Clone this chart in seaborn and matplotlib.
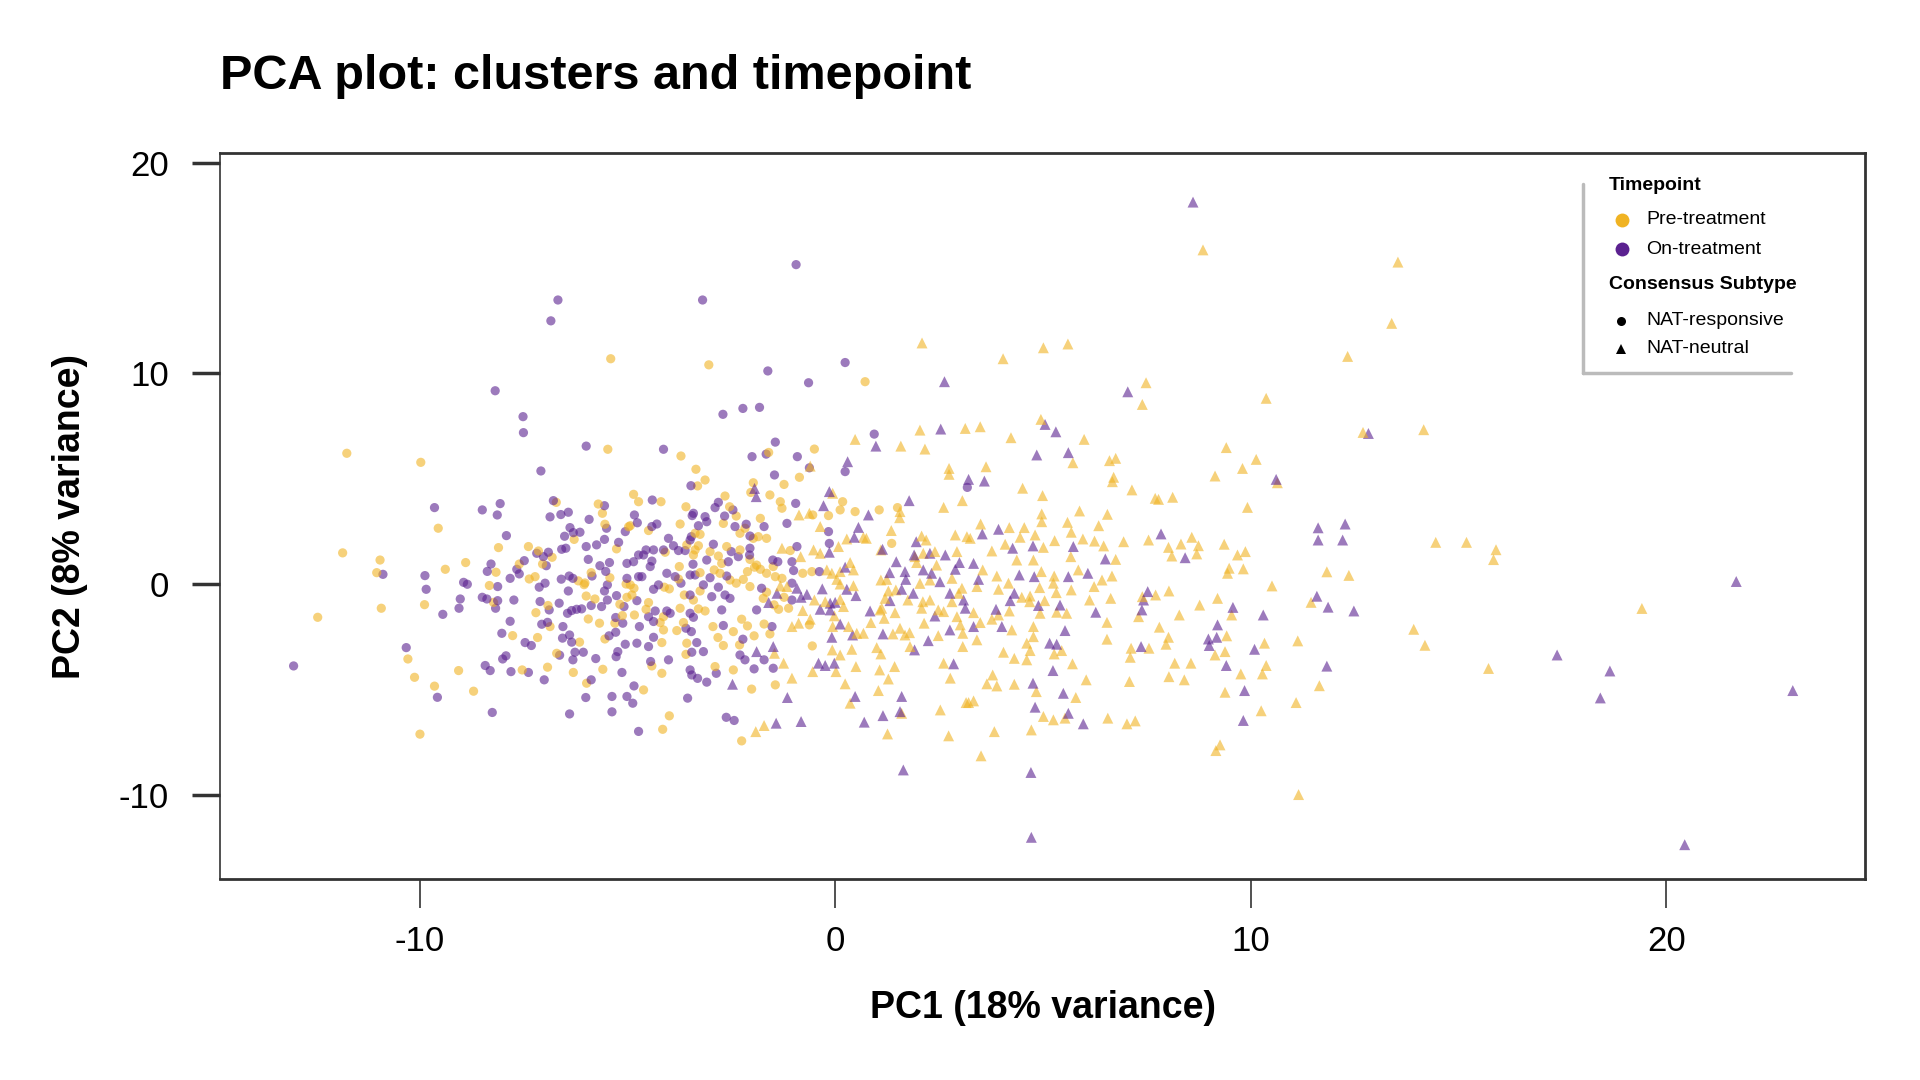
import matplotlib
matplotlib.use("Agg")
import matplotlib.pyplot as plt
from matplotlib.lines import Line2D
import seaborn as sns
import pandas as pd

# ---------------- data (PC1, PC2) ----------------
pre_resp = [(-11.75,6.21),(-9.97,5.78),(-5.47,6.40),(-6.71,3.88),(-5.70,3.80),(-5.60,3.36),(-5.54,2.84),(-4.97,2.72),(-9.55,2.65),(-6.28,2.12),(-11.85,1.48),(-10.95,1.14),(-11.03,0.54),(-10.92,-1.15),(-12.45,-1.58),(-9.88,-0.98),(-9.38,0.70),(-8.89,1.02),(-8.10,1.73),(-8.16,0.56),(-8.32,-0.07),(-8.22,-0.87),(-7.60,0.95),(-7.38,1.78),(-7.14,1.57),(-6.81,1.27),(-7.04,0.95),(-7.36,0.24),(-7.22,0.35),(-6.91,-1.02),(-6.18,0.15),(-6.04,-0.03),(-6.02,0.05),(-5.87,0.54),(-5.99,-0.57),(-5.78,-0.71),(-5.26,1.67),(-5.42,0.30),(-5.03,0.00),(-5.18,-0.96),(-5.01,-0.63),(-5.94,-1.66),(-5.67,-1.86),(-5.12,-1.50),(-5.30,-1.86),(-6.15,-2.76),(-6.70,-3.29),(-5.54,-2.61),(-5.59,-4.05),(-6.30,-4.20),(-5.98,-4.71),(-7.76,-2.45),(-7.16,-2.54),(-7.20,-1.36),(-6.86,-2.02),(-10.28,-3.56),(-10.12,-4.43),(-9.64,-4.85),(-9.06,-4.11),(-8.70,-5.09),(-7.53,-4.08),(-6.92,-3.95),(-9.99,-7.13),
    (0.72,9.61),(-3.71,6.08),(-3.35,5.45),(-3.13,4.94),(-3.31,4.66),(-1.60,6.25),(-0.50,6.41),(-1.23,4.73),(-0.86,5.07),(-1.97,4.81),(-2.03,4.35),(-4.85,4.26),(-4.73,3.91),(-4.19,3.91),(-4.93,2.77),(-4.49,2.54),(-3.59,3.67),(-3.73,2.85),(-3.37,2.41),(-3.25,2.36),(-2.65,4.18),(-2.54,3.67),(-2.38,3.23),(-2.69,2.88),(-2.29,2.41),(-2.17,2.65),(-1.97,2.17),(-1.80,3.12),(-1.85,2.25),(-1.65,2.17),(-1.57,4.23),(-1.32,3.91),(-1.28,3.60),(-0.54,3.28),(-0.16,3.25),(0.18,3.91),(0.12,3.52),(0.48,3.44),(1.06,3.52),(1.50,3.63),(1.36,1.93),(-4.09,1.51),(-3.77,0.24),(-4.93,-0.04),(-4.84,-0.20),(-4.11,-0.15),(-3.99,-0.23),(-4.89,-0.52),(-4.49,-0.88),(-4.55,-1.20),(-4.83,-1.47),(-4.13,-1.55),(-4.21,-1.83),(-3.57,1.86),(-3.37,1.62),(-3.29,1.82),(-3.41,1.38),(-3.75,0.83),(-3.25,0.54),(-3.01,1.54),(-2.81,1.33),(-2.61,1.78),(-2.73,0.98),(-2.91,0.67),(-2.77,0.51),(-3.25,-0.33),(-3.63,-0.52),(-3.41,-0.76),(-2.53,0.19),(-2.38,0.04),(-2.21,0.22),(-2.11,0.59),(-2.05,-0.12),(-1.89,0.90),(-1.80,0.70),(-1.65,0.51),(-1.49,0.83),(-1.44,0.35),(-1.28,0.27),(-2.29,1.62),(-2.05,1.17),(-1.94,0.80),(-1.65,-0.39),(-1.73,-0.68),(-1.23,-0.63),(-1.47,-0.99),(-1.12,-1.15),(-1.36,-1.20),(-1.08,1.59),(-0.78,0.51),(-0.56,0.59),(-4.17,-2.78),(-4.13,-2.18),(-3.81,-2.21),(-3.65,-1.83),(-3.73,-1.15),(-3.29,-1.18),(-3.13,-1.28),(-3.57,-2.81),(-3.59,-3.34),(-4.41,-3.89),(-4.17,-4.24),(-2.89,-3.92),(-2.94,-2.02),(-2.45,-2.26),(-2.82,-2.54),(-2.69,-2.92),(-2.30,-2.89),(-2.45,-4.08),(-2.25,-1.67),(-2.11,-1.99),(-1.95,-2.46),(-1.71,-1.90),(-1.57,-2.37),(-1.44,-4.79),(-2.01,-4.99),(-0.55,-2.94),(-0.62,-1.94),(-2.25,-7.45),(-3.99,-6.26),(-4.15,-6.90),(-4.61,-5.03),
    (-5.40,10.70),(-3.04,10.41)]

on_resp = [(-8.18,9.18),(-7.51,7.95),(-7.50,7.19),(-5.99,6.55),(-7.08,5.37),(-9.64,3.63),(-8.49,3.52),(-8.06,3.82),(-8.13,3.28),(-6.78,3.96),(-6.86,3.19),(-6.60,3.30),(-6.42,3.41),(-5.92,3.07),(-5.55,3.72),(-5.50,2.65),(-5.05,2.49),(-7.91,2.30),(-6.38,2.68),(-6.30,2.44),(-6.14,2.46),(-6.51,2.27),(-10.88,0.46),(-13.03,-3.89),(-9.87,0.40),(-9.84,-0.25),(-9.44,-1.44),(-9.02,-0.71),(-9.05,-1.15),(-8.94,0.08),(-8.85,-0.01),(-8.28,0.95),(-8.37,0.60),(-8.12,-0.12),(-8.49,-0.63),(-8.38,-0.71),(-8.12,-0.79),(-8.17,-1.15),(-7.73,-0.76),(-7.82,0.27),(-7.66,0.70),(-7.60,0.48),(-7.48,1.11),(-7.18,1.46),(-7.02,1.30),(-6.90,1.51),(-6.95,0.87),(-6.98,0.04),(-7.12,-0.15),(-7.10,-0.83),(-6.88,-1.23),(-6.64,-0.91),(-6.58,1.65),(-6.48,1.70),(-6.59,0.23),(-6.40,0.38),(-6.31,0.27),(-6.42,-0.33),(-5.85,0.38),(-5.87,-1.02),(-5.99,1.78),(-5.94,1.17),(-5.74,1.86),(-5.55,2.12),(-5.21,1.98),(-5.66,0.87),(-5.43,1.02),(-5.01,0.98),(-5.52,0.60),(-5.48,-0.04),(-5.55,-0.33),(-5.01,0.27),(-5.26,-0.55),(-5.48,-0.76),(-5.62,-1.07),(-5.08,-1.07),(-6.44,-1.39),(-6.34,-1.26),(-6.22,-1.20),(-6.10,-1.18),(-5.28,-1.59),(-5.11,-1.86),(-6.55,-2.02),(-6.39,-2.42),(-6.56,-2.57),(-6.34,-2.76),(-6.26,-3.24),(-6.06,-3.24),(-6.31,-3.60),(-6.63,-3.38),(-5.76,-3.54),(-5.28,-2.29),(-5.44,-2.46),(-5.05,-2.86),(-5.23,-3.21),(-5.27,-3.45),(-5.13,-4.20),(-5.87,-4.55),(-6.00,-5.39),(-5.37,-5.34),(-5.01,-5.34),(-5.37,-6.07),(-6.39,-6.17),(-7.82,-1.77),(-8.02,-2.34),(-7.46,-2.78),(-7.31,-2.92),(-7.06,-1.91),(-6.92,-1.82),(-10.32,-3.02),(-9.57,-5.38),(-8.42,-3.87),(-8.30,-4.11),(-8.00,-3.56),(-7.92,-3.41),(-7.80,-4.16),(-7.38,-4.20),(-7.00,-4.55),(-8.25,-6.10),
    (-0.64,9.56),(-2.70,8.06),(-2.22,8.34),(-1.82,8.39),(-4.13,6.40),(-3.47,4.67),(-1.44,6.74),(-1.66,6.17),(-2.00,6.05),(-0.91,6.05),(-0.62,5.52),(-1.46,5.18),(0.24,5.34),(0.94,7.12),(3.18,4.59),(-4.40,3.99),(-4.83,3.28),(-4.76,2.91),(-4.41,2.73),(-4.29,2.85),(-3.44,3.25),(-3.41,3.36),(-3.29,2.77),(-3.13,3.20),(-3.09,2.96),(-3.46,2.25),(-2.89,3.63),(-2.81,3.88),(-2.46,3.52),(-2.66,3.23),(-2.41,2.73),(-2.14,2.84),(-2.05,2.28),(-1.71,2.73),(-0.95,3.83),(-1.16,2.88),(-0.16,2.49),(-4.01,2.17),(-3.89,1.82),(-3.77,1.59),(-4.13,1.62),(-4.37,1.62),(-4.55,1.62),(-4.73,1.38),(-4.61,1.38),(-4.85,1.06),(-4.41,1.09),(-4.45,0.83),(-4.05,0.51),(-3.85,0.35),(-3.71,0.04),(-4.73,0.35),(-4.65,0.35),(-4.37,-0.25),(-4.25,-0.04),(-4.77,-0.79),(-4.33,-1.28),(-4.05,-1.28),(-4.49,-1.55),(-4.37,-1.78),(-3.49,2.09),(-3.61,1.59),(-3.42,0.94),(-3.37,0.43),(-3.49,0.43),(-3.09,1.14),(-2.93,1.89),(-2.50,1.54),(-2.33,1.30),(-2.57,1.06),(-3.01,0.30),(-2.81,-0.15),(-3.17,-0.04),(-3.49,-0.52),(-2.61,0.38),(-2.65,-0.52),(-2.97,-0.60),(-2.53,-0.68),(-1.38,1.06),(-1.50,1.14),(-2.06,1.38),(-2.05,1.70),(-1.77,-0.20),(-1.04,1.06),(-1.00,0.64),(-0.92,1.78),(-1.04,0.04),(-1.04,-0.76),(-0.38,0.59),(-0.14,1.93),(-4.71,-2.02),(-4.77,-2.81),(-4.49,-2.97),(-4.37,-2.53),(-3.59,-2.10),(-3.46,-2.26),(-3.97,-1.39),(-3.49,-1.39),(-3.41,-1.58),(-3.33,-2.78),(-3.17,-3.21),(-3.45,-3.24),(-4.44,-3.68),(-4.01,-3.60),(-3.49,-4.08),(-3.45,-4.32),(-3.31,-4.48),(-3.09,-4.66),(-2.86,-4.24),(-2.69,-1.97),(-2.73,-1.23),(-2.22,-2.62),(-2.29,-3.37),(-2.17,-3.60),(-1.89,-1.23),(-1.52,-2.02),(-1.95,-4.03),(-1.71,-3.60),(-1.49,-4.00),(-2.62,-6.33),(-2.43,-6.48),(-4.73,-7.00),(-4.84,-4.84),(-4.87,-5.66),(-3.55,-5.42),
    (-0.94,15.17),(-3.19,13.49),(-6.67,13.49),(-6.84,12.50),(-1.62,10.12),(0.24,10.52)]

pre_neut = [(-0.60,5.60),(0.48,6.87),(1.58,6.55),(2.04,7.31),(2.16,6.41),(3.13,7.39),(2.74,5.49),(2.74,5.21),(-0.87,3.28),(-0.62,3.36),(-0.06,4.31),(-0.36,2.73),(0.28,2.14),(0.68,2.22),(0.75,2.17),(1.56,3.44),(1.55,3.15),(2.61,3.64),(3.06,3.96),(1.35,2.54),(2.08,2.28),(2.19,2.09),(2.89,2.33),(3.17,2.25),(-1.32,-0.09),(-1.16,-0.12),(-1.28,1.70),(-0.83,1.30),(-0.78,-1.26),(-0.52,1.62),(-0.36,1.46),(0.08,1.78),(-0.20,0.67),(-0.08,0.51),(0.12,0.59),(0.36,1.02),(0.44,0.67),(0.04,0.22),(0.12,0.00),(0.44,-0.08),(-0.50,-0.76),(-0.24,-0.84),(0.12,-0.73),(0.20,-1.07),(-0.02,-1.51),(-1.46,-3.29),(-1.24,-3.76),(-1.04,-4.47),(-1.04,-2.02),(-0.88,-1.86),(-0.60,-1.67),(-0.06,-2.02),(0.32,-2.02),(0.52,-2.34),(-0.07,-3.13),(0.12,-3.37),(0.40,-3.10),(0.02,-4.16),(-0.54,-4.16),(0.50,-3.92),(0.24,-4.74),(0.36,-5.66),(1.04,-5.06),(0.86,-1.83),(0.68,-2.34),(1.08,-1.23),(1.18,-1.63),(1.39,-2.37),(1.00,-3.02),(1.10,-3.32),(1.07,-4.08),(1.43,-3.92),(1.28,-4.51),(1.56,-2.10),(1.68,-2.42),(1.79,-2.31),(1.80,-2.97),(1.60,-6.14),(1.26,-7.12),(-1.71,-6.72),(-1.91,-7.01),(2.14,-1.86),(2.08,-1.15),(2.28,-0.76),(2.48,-1.23),(2.61,-1.31),(2.93,-1.55),(2.48,-2.45),(3.07,-2.34),(3.01,-1.94),(2.61,-3.76),(2.77,-4.47),(3.07,-2.97),(2.53,-5.98),(2.73,-7.21),(3.15,-5.63),(1.10,1.62),(1.24,0.22),(1.10,0.19),(1.46,-0.28),(1.28,-0.33),(1.20,-0.68),(1.12,-1.15),(1.44,-1.36),(1.75,-0.76),(1.92,1.30),(2.12,1.46),(2.40,1.54),(2.93,1.54),(1.96,1.02),(2.44,0.90),(2.28,0.19),(2.81,0.27),(3.05,-0.20),(2.97,-0.44),(2.04,0.03),(2.81,-0.84),(2.11,-0.84),
    (7.48,9.56),(7.39,8.53),(10.37,8.82),(3.49,7.47),(4.23,6.95),(4.95,7.82),(5.99,6.87),(5.72,5.76),(6.60,5.86),(6.75,5.97),(6.70,5.07),(6.67,4.86),(7.14,4.47),(3.63,5.57),(4.51,4.55),(4.99,4.20),(9.41,6.48),(10.13,5.92),(9.80,5.49),(9.14,5.13),(10.64,4.81),(7.70,4.07),(7.78,4.02),(8.12,4.12),(9.92,3.64),(4.97,3.33),(5.88,3.47),(6.55,3.31),(3.50,2.85),(4.19,2.68),(4.55,2.68),(4.97,2.96),(5.59,2.93),(5.68,2.46),(6.34,2.77),(4.81,2.33),(4.45,2.22),(3.25,2.17),(5.96,2.14),(6.24,2.04),(6.94,2.01),(7.54,2.09),(8.58,2.22),(8.32,1.90),(8.74,1.82),(8.02,1.74),(8.10,1.33),(8.70,1.43),(9.36,1.89),(9.68,1.38),(9.87,1.54),(9.48,0.75),(9.44,0.51),(9.82,0.72),(10.51,-0.09),(3.77,1.57),(4.09,1.89),(5.01,1.74),(5.28,2.06),(5.67,1.30),(6.46,1.81),(6.75,1.17),(4.37,1.14),(4.77,1.14),(3.55,0.67),(4.96,0.59),(3.89,0.38),(4.17,0.04),(3.41,-0.12),(3.93,-0.25),(4.92,-0.17),(5.27,0.38),(5.25,0.04),(5.68,-0.28),(5.85,0.67),(6.42,0.19),(6.66,0.38),(6.23,-0.12),(5.32,-0.41),(4.49,-0.63),(4.69,-0.57),(4.68,-0.84),(5.04,-0.79),(6.12,-0.76),(6.63,-0.68),(7.39,-0.60),(7.71,-0.52),(8.03,-0.33),(7.30,-1.55),(8.77,-1.00),(9.20,-0.68),(9.54,-1.47),(8.28,-1.47),(3.77,-1.67),(3.93,-1.47),(4.19,-1.28),(3.33,-1.36),(4.93,-1.39),(5.33,-1.34),(5.57,-1.39),(3.49,-1.83),(4.25,-2.18),(4.77,-2.02),(6.54,-1.82),(3.41,-2.65),(4.77,-2.50),(4.61,-2.81),(4.05,-3.24),(4.69,-3.16),(4.31,-3.53),(4.61,-3.60),(5.45,-3.16),(5.27,-3.32),(5.71,-3.79),(6.54,-2.62),(7.12,-3.05),(7.10,-3.48),(7.55,-3.05),(7.80,-2.05),(8.02,-2.53),(7.96,-2.86),(8.17,-3.76),(8.56,-3.76),(8.03,-4.40),(8.40,-4.55),(9.42,-2.46),(9.14,-3.37),(9.38,-3.21),(10.33,-2.81),(10.37,-3.87),(10.28,-4.27),(9.76,-4.27),(11.13,-2.70),(9.38,-5.14),(10.25,-6.02),(11.09,-5.63),(9.26,-7.64),(9.16,-7.91),(3.79,-4.32),(3.65,-4.74),(3.89,-4.84),(4.31,-4.76),(4.84,-5.11),(5.79,-5.39),(5.01,-6.29),(5.25,-6.45),(5.53,-6.37),(6.56,-6.37),(7.02,-6.64),(7.22,-6.50),(6.04,-4.55),(7.08,-4.63),(3.21,-5.63),(3.33,-5.55),(3.83,-7.01),(4.72,-6.93),(3.51,-8.16),
    (8.85,15.87),(13.54,15.29),(13.39,12.38),(12.33,10.81),(5.60,11.40),(5.01,11.22),(2.09,11.45),(4.04,10.70),(12.70,7.20),(14.16,7.33),(11.83,0.58),(12.36,0.41),(14.45,1.98),(15.19,1.98),(15.90,1.63),(15.84,1.16),(11.45,-0.87),(13.92,-2.15),(14.19,-2.91),(11.65,-4.83),(15.72,-4.01),(19.41,-1.16),(11.15,-10.00)]

on_neut = [(2.63,9.61),(-1.94,4.54),(-1.90,4.15),(0.30,5.81),(0.98,6.55),(2.54,7.36),(3.21,4.97),(-0.28,3.72),(-0.14,4.39),(0.56,2.69),(0.46,2.22),(0.80,3.28),(1.78,3.96),(1.95,2.01),(-1.60,-0.88),(-1.40,-0.44),(-0.92,-0.20),(-0.82,-0.63),(-0.68,-0.49),(-0.14,1.51),(0.24,0.80),(-0.31,-0.23),(0.28,-0.25),(0.50,-0.55),(-0.12,-0.91),(0.00,-0.87),(-0.12,-1.23),(-0.36,-1.20),(-1.89,-3.21),(-1.49,-2.97),(-2.47,-4.76),(0.12,-1.90),(0.42,-2.42),(-0.08,-2.53),(-0.40,-3.76),(-0.24,-3.87),(-0.02,-3.76),(0.48,-5.34),(-1.15,-5.39),(0.84,-1.28),(1.15,-2.37),(1.91,-3.13),(1.60,-5.34),(1.56,-6.06),(1.15,-6.25),(0.70,-6.56),(1.64,-8.83),(-1.42,-6.61),(-0.82,-6.53),(2.40,-1.52),(3.13,-1.15),(2.76,-2.18),(2.24,-2.69),(2.85,-3.79),(1.14,1.65),(1.47,1.06),(1.31,0.54),(1.68,0.59),(1.70,0.22),(1.60,-0.25),(1.32,-0.79),(1.88,-0.44),(1.90,1.38),(2.28,1.46),(2.65,1.38),(2.12,0.67),(2.89,0.70),(2.99,1.02),(2.52,0.11),(2.32,0.51),(2.76,-0.44),(3.09,-0.76),
    (7.04,9.13),(5.05,7.58),(5.31,7.23),(4.85,6.13),(5.61,6.24),(3.59,4.89),(10.61,4.97),(3.93,2.60),(3.54,2.38),(7.84,2.38),(8.42,1.25),(4.27,1.70),(4.76,1.81),(5.73,1.78),(6.50,1.19),(3.33,0.98),(4.43,0.43),(4.79,0.35),(3.45,0.22),(5.61,0.35),(6.08,0.51),(4.31,-0.44),(4.21,-0.79),(4.89,-1.02),(5.41,-1.00),(7.52,-0.36),(7.42,-0.76),(7.38,-1.23),(9.57,-1.11),(10.30,-1.47),(3.87,-1.20),(6.27,-1.34),(3.33,-2.02),(4.01,-2.02),(5.53,-2.21),(5.16,-2.81),(5.33,-2.86),(5.24,-4.11),(7.36,-2.97),(9.20,-1.94),(8.98,-2.61),(9.18,-2.53),(9.00,-2.92),(9.41,-3.87),(10.09,-3.10),(9.85,-5.06),(9.82,-6.48),(4.76,-4.71),(5.49,-5.19),(4.81,-5.85),(5.61,-6.14),(5.97,-6.64),(4.71,-8.95),
    (8.61,18.14),(12.83,7.15),(11.62,2.67),(11.62,2.09),(12.27,2.85),(12.21,2.09),(11.59,-0.58),(11.86,-1.10),(12.48,-1.28),(11.83,-3.90),(17.37,-3.37),(18.64,-4.13),(18.41,-5.41),(21.68,0.12),(23.04,-5.06),(20.44,-12.38),(4.72,-12.03)]

timepoints = ["Pre-treatment", "On-treatment"]
subtypes = ["NAT-responsive", "NAT-neutral"]
colors = {"Pre-treatment": "#F0B323", "On-treatment": "#5B2190"}
x_ticks = [-10, 0, 10, 20]
y_ticks = [-10, 0, 10, 20]

rows = []
for pts, tp, st in [(pre_resp, timepoints[0], subtypes[0]), (on_resp, timepoints[1], subtypes[0]),
                    (pre_neut, timepoints[0], subtypes[1]), (on_neut, timepoints[1], subtypes[1])]:
    for x, y in pts:
        rows.append({"PC1": x, "PC2": y, "Timepoint": tp, "Subtype": st})
df = pd.DataFrame(rows)
# deterministic interleaving of the groups in draw order
df = df.sort_values("PC2", kind="stable").reset_index(drop=True)

sns.set_theme(style="white")
plt.rcParams["font.family"] = ["Liberation Sans", "DejaVu Sans"]
plt.rcParams["axes.unicode_minus"] = False
for k in ["text.color", "axes.labelcolor", "xtick.color", "ytick.color"]:
    plt.rcParams[k] = "black"

fig = plt.figure(figsize=(19.2, 10.8), dpi=100)
ax = fig.add_axes([0.1146, 0.1861, 0.9714 - 0.1146, 0.8583 - 0.1861])

sns.scatterplot(data=df[df.Subtype == "NAT-responsive"], x="PC1", y="PC2", hue="Timepoint",
                palette=colors, marker="o", s=44, alpha=0.6, linewidth=0, legend=False, ax=ax)
sns.scatterplot(data=df[df.Subtype == "NAT-neutral"], x="PC1", y="PC2", hue="Timepoint",
                palette=colors, marker="^", s=62, alpha=0.6, linewidth=0, legend=False, ax=ax)

ax.set_xlim(-14.8, 24.78)
ax.set_ylim(-14.01, 20.47)
ax.set_xticks(x_ticks)
ax.set_yticks(y_ticks)
ax.tick_params(axis="x", direction="out", length=21, width=1.2, color="#333333",
               labelcolor="black", labelsize=25, pad=12, bottom=True)
ax.tick_params(axis="y", direction="out", length=20, width=2.5, color="#333333",
               labelcolor="black", labelsize=25, pad=17, left=True)
for name, sp in ax.spines.items():
    sp.set_color("#333333")
    sp.set_linewidth(1.2 if name == "left" else 2.0)

ax.set_xlabel("PC1 (18% variance)", fontsize=27, fontweight="bold", color="black")
ax.set_ylabel("PC2 (8% variance)", fontsize=27, fontweight="bold", color="black")
ax.xaxis.set_label_coords(0.5, -0.177)
ax.xaxis.label.set_va("center")
ax.yaxis.set_label_coords(-0.0912, 0.5)
ax.yaxis.label.set_va("center")

fig.text(0.1146, 0.918, "PCA plot: clusters and timepoint", fontsize=35, fontweight="bold",
         ha="left", va="baseline", color="black")

# ---------------- legend ----------------
lc = "#BBBBBB"
fig.add_artist(Line2D([0.8245, 0.8245], [0.8296, 0.6546], color=lc, lw=2.5, transform=fig.transFigure))
fig.add_artist(Line2D([0.8245, 0.9328], [0.6546, 0.6546], color=lc, lw=2.5, transform=fig.transFigure))
fig.text(0.838, 0.8287, "Timepoint", fontsize=14, fontweight="bold", ha="left", va="center", color="black")
for yy, lab in [(0.7963, timepoints[0]), (0.7694, timepoints[1])]:
    fig.add_artist(Line2D([0.8448], [yy], marker="o", markersize=10, color=colors[lab],
                          markeredgewidth=0, linestyle="none", transform=fig.transFigure))
    fig.text(0.8573, yy, lab, fontsize=14, ha="left", va="center", color="black")
fig.text(0.838, 0.737, "Consensus Subtype", fontsize=14, fontweight="bold", ha="left", va="center", color="black")
for yy, lab, mk in [(0.7028, subtypes[0], "o"), (0.6769, subtypes[1], "^")]:
    fig.add_artist(Line2D([0.8443], [yy], marker=mk, markersize=6.5, color="black",
                          markeredgewidth=0, linestyle="none", transform=fig.transFigure))
    fig.text(0.8573, yy, lab, fontsize=14, ha="left", va="center", color="black")

fig.savefig("out.png", dpi=100, facecolor="white")
